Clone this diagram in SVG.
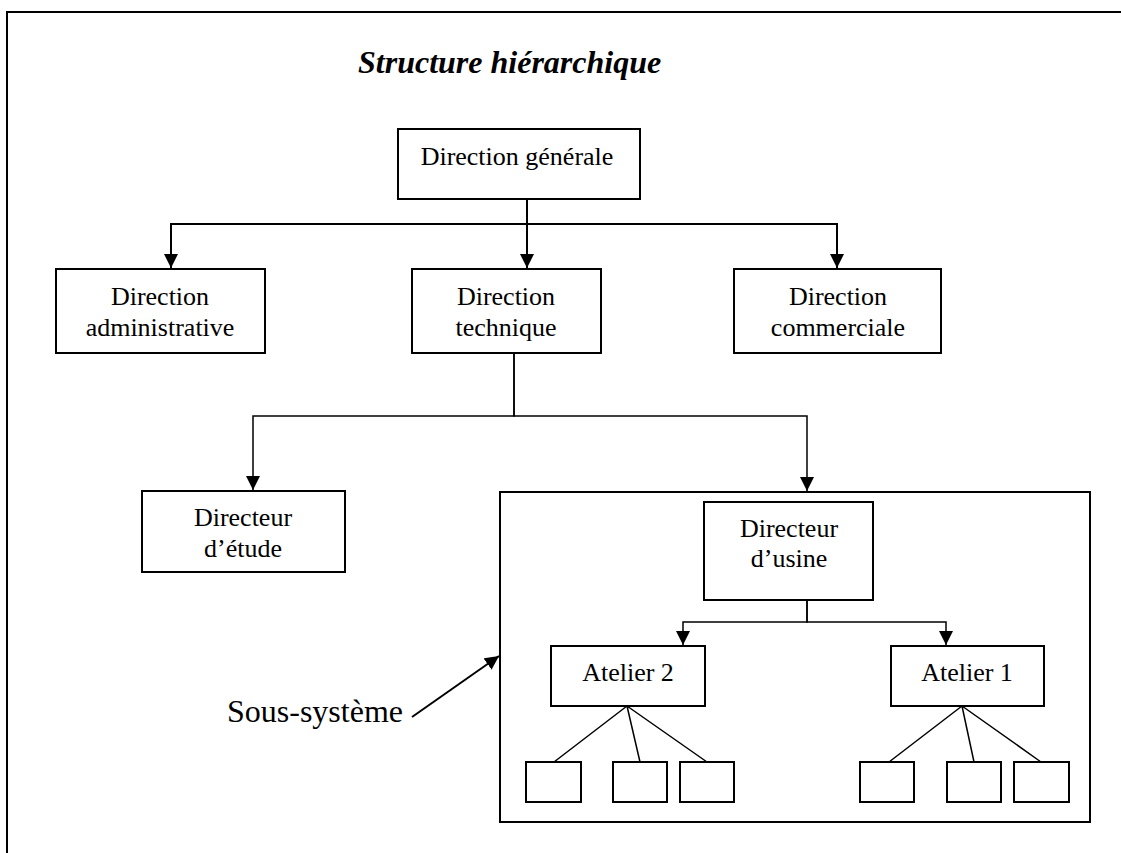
<svg xmlns="http://www.w3.org/2000/svg" width="1121" height="853" viewBox="0 0 1121 853">
<style>
.box{fill:#fff;stroke:#000;stroke-width:2}
.frame{fill:none;stroke:#000;stroke-width:2}
.t{font-family:"Liberation Serif","Times New Roman",serif;font-size:26px;fill:#000;text-anchor:middle}
.title{font-family:"Liberation Serif","Times New Roman",serif;font-size:32px;font-weight:bold;font-style:italic;fill:#000}
.lbl{font-family:"Liberation Serif","Times New Roman",serif;font-size:32px;fill:#000}
.c{fill:none;stroke:#000;stroke-width:2}
.c2{fill:none;stroke:#000;stroke-width:1.5}
</style>
<defs>
<marker id="arr" viewBox="0 0 14 14" refX="14" refY="7" markerWidth="14" markerHeight="14" markerUnits="userSpaceOnUse" orient="auto">
<path d="M0,0 L14,7 L0,14 z" fill="#000"/>
</marker>
</defs>
<rect x="0" y="0" width="1121" height="853" fill="#fff"/>
<rect class="frame" x="7" y="12" width="1200" height="900"/>
<text class="title" x="358" y="73">Structure hiérarchique</text>
<g id="sous-systeme">
<rect class="frame" x="500" y="492" width="590" height="330"/>
</g>
<g id="connectors">
<path class="c" d="M527,199 V268" marker-end="url(#arr)"/>
<path class="c" d="M527,199 V224 H171 V268" marker-end="url(#arr)"/>
<path class="c" d="M527,199 V224 H837 V268" marker-end="url(#arr)"/>
<path class="c2" d="M514,353 V416 H253 V490" marker-end="url(#arr)"/>
<path class="c2" d="M514,353 V416 H807 V491" marker-end="url(#arr)"/>
<path class="c2" d="M807,600 V622 H683 V645" marker-end="url(#arr)"/>
<path class="c2" d="M807,600 V622 H946 V645" marker-end="url(#arr)"/>
<path class="c2" d="M627,706 L554,762 M627,706 L640,762 M627,706 L707,762"/>
<path class="c2" d="M962,706 L889,762 M962,706 L974,762 M962,706 L1041,762"/>
<path class="c" d="M412,717 L499,656" marker-end="url(#arr)"/>
</g>
<g id="direction-generale">
<rect class="box" x="398" y="129" width="242" height="70"/>
<text class="t" x="517" y="165">Direction générale</text>
</g>
<g id="direction-administrative">
<rect class="box" x="56" y="269" width="209" height="84"/>
<text class="t" x="160" y="305">Direction</text>
<text class="t" x="160" y="336">administrative</text>
</g>
<g id="direction-technique">
<rect class="box" x="412" y="269" width="189" height="84"/>
<text class="t" x="506" y="305">Direction</text>
<text class="t" x="506" y="336">technique</text>
</g>
<g id="direction-commerciale">
<rect class="box" x="734" y="269" width="207" height="84"/>
<text class="t" x="838" y="305">Direction</text>
<text class="t" x="838" y="336">commerciale</text>
</g>
<g id="directeur-etude">
<rect class="box" x="142" y="491" width="203" height="81"/>
<text class="t" x="243" y="526">Directeur</text>
<text class="t" x="243" y="557">d’étude</text>
</g>
<g id="directeur-usine">
<rect class="box" x="704" y="502" width="169" height="98"/>
<text class="t" x="789" y="537">Directeur</text>
<text class="t" x="789" y="567">d’usine</text>
</g>
<g id="atelier-2">
<rect class="box" x="551" y="646" width="154" height="60"/>
<text class="t" x="628" y="681">Atelier 2</text>
</g>
<g id="atelier-1">
<rect class="box" x="891" y="646" width="153" height="60"/>
<text class="t" x="967" y="681">Atelier 1</text>
</g>
<g id="poste-2a"><rect class="box" x="526" y="762" width="55" height="40"/></g>
<g id="poste-2b"><rect class="box" x="613" y="762" width="54" height="40"/></g>
<g id="poste-2c"><rect class="box" x="680" y="762" width="54" height="40"/></g>
<g id="poste-1a"><rect class="box" x="860" y="762" width="54" height="40"/></g>
<g id="poste-1b"><rect class="box" x="947" y="762" width="54" height="40"/></g>
<g id="poste-1c"><rect class="box" x="1014" y="762" width="55" height="40"/></g>
<text class="lbl" x="227" y="722">Sous-système</text>
</svg>
